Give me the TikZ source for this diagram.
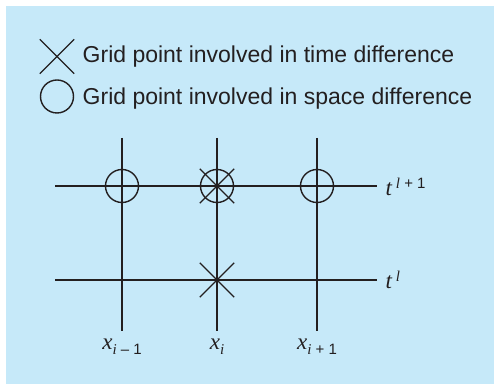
\documentclass[tikz,border=0pt]{standalone}
\usepackage{fontspec}
\setmainfont{Liberation Sans}
\newfontfamily\varfont{Liberation Serif}
\usetikzlibrary{shapes.misc}
\definecolor{panel}{RGB}{198,233,249}
\definecolor{ink}{RGB}{35,31,32}
\newcommand{\marksize}{16.5pt}
\newcommand{\vi}[1]{{\varfont\itshape #1}}
\newcommand{\idx}[1]{\fontsize{7.5}{9}\selectfont #1}

\begin{document}
\begin{tikzpicture}[x=0.5pt,y=-0.5pt,line width=0.7pt,
  font=\fontsize{11.5}{14}\selectfont,
  spacept/.style={circle,draw=ink,inner sep=0,minimum size=\marksize},
  timept/.style={cross out,draw=ink,inner sep=0,minimum size=\marksize},
  lab/.style={inner sep=0,text=ink,font=\fontsize{11.5}{14}\selectfont}]
\useasboundingbox (0,0) rectangle (494,384);
\fill[panel] (6,6) rectangle (494,384);
% legend
\node[timept] (keyt) at (57,56.5) {};
\node[spacept] (keys) at (57,96.5) {};
\node[lab,anchor=base west] (keyttxt) at (82,62.5) {Grid point involved in time difference};
\node[lab,anchor=base west] (keystxt) at (82,105) {Grid point involved in space difference};
% grid
\foreach \x/\n in {122/a,217/b,317/c}{
    \coordinate (up-\n) at (\x,186);
    \coordinate (lo-\n) at (\x,280);
    \draw[ink] (\x,138)--(\x,331);}
\draw[ink] (55,186)--(377,186);
\draw[ink] (55,280)--(377,280);
\foreach \n in {a,b,c}
    \node[spacept] (sp-\n) at (up-\n) {};
\node[timept] (tp-up) at (up-b) {};
\node[timept] (tp-lo) at (lo-b) {};
% labels
\node[lab,anchor=base west] (tnew) at (385,196) {\vi{t}\,\raisebox{3.5pt}{\idx{\vi{l} + 1}}};
\node[lab,anchor=base west] (told) at (385,289) {\vi{t}\,\raisebox{3.5pt}{\idx{\vi{l}}}};
\node[lab,anchor=base] (xa) at (122,350) {\vi{x}\raisebox{-2.5pt}{\idx{\vi{i} – 1}}};
\node[lab,anchor=base] (xb) at (217,350) {\vi{x}\raisebox{-2.5pt}{\idx{\vi{i}}}};
\node[lab,anchor=base] (xc) at (317,350) {\vi{x}\raisebox{-2.5pt}{\idx{\vi{i} + 1}}};
\end{tikzpicture}
\end{document}
